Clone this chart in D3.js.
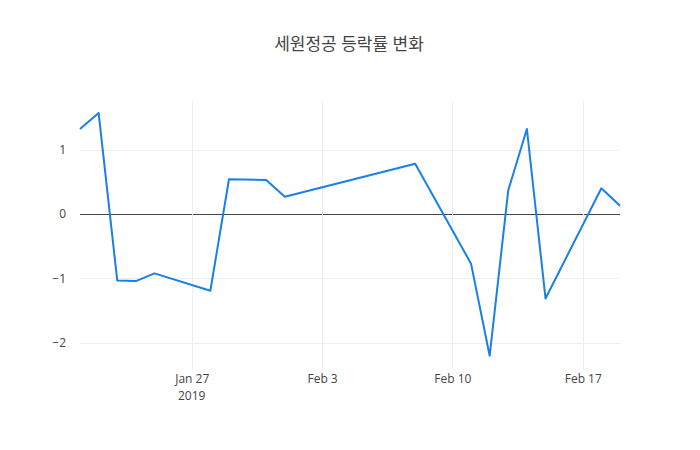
<!DOCTYPE html>
<html><head><meta charset="utf-8">
<script src="https://cdn.jsdelivr.net/npm/d3@7"></script>
<style>body{margin:0;background:#fff}text{font-family:"Open Sans","Noto Sans CJK KR",sans-serif}</style>
</head><body><svg id="chart" width="700" height="450"></svg>
<script>
const dates = ["2019-01-21","2019-01-22","2019-01-23","2019-01-24","2019-01-25","2019-01-28","2019-01-29","2019-01-31","2019-02-01","2019-02-08","2019-02-11","2019-02-12","2019-02-13","2019-02-14","2019-02-15","2019-02-18","2019-02-19"];
const rates = [1.32,1.57,-1.03,-1.04,-0.92,-1.19,0.54,0.53,0.27,0.78,-0.77,-2.2,0.37,1.32,-1.31,0.40,0.13];
const yTicks = [-2,-1,0,1];
const xTicks = ["2019-01-27","2019-02-03","2019-02-10","2019-02-17"];

const svg = d3.select("#chart");
const m = {l: 80, r: 80, t: 100, b: 80};
const w = 700 - m.l - m.r, h = 450 - m.t - m.b;
const parse = d3.timeParse("%Y-%m-%d");
const data = dates.map((d, i) => ({date: parse(d), v: rates[i]}));

const x = d3.scaleTime().domain(d3.extent(data, d => d.date)).range([m.l, m.l + w]);
const y = d3.scaleLinear().domain([-2.42, 1.77]).range([m.t + h, m.t]);

// grid
svg.append("g").selectAll("line").data(yTicks).join("line")
    .attr("x1", m.l).attr("x2", m.l + w)
    .attr("y1", d => Math.round(y(d)) + 0.5).attr("y2", d => Math.round(y(d)) + 0.5)
    .attr("stroke", d => d === 0 ? "#444" : "#eee").attr("stroke-width", 1);
svg.append("g").selectAll("line").data(xTicks.map(parse)).join("line")
    .attr("x1", d => Math.round(x(d)) + 0.5).attr("x2", d => Math.round(x(d)) + 0.5)
    .attr("y1", m.t).attr("y2", m.t + h)
    .attr("stroke", "#eee");

// axes
const yAxis = svg.append("g").attr("transform", `translate(${m.l},0)`)
    .call(d3.axisLeft(y).tickValues(yTicks).tickSize(0).tickPadding(14).tickFormat(d => d < 0 ? "\u2212" + Math.abs(d) : d));
const xAxis = svg.append("g").attr("transform", `translate(0,${m.t + h})`)
    .call(d3.axisBottom(x).tickValues(xTicks.map(parse)).tickSize(0).tickPadding(4).tickFormat(d3.timeFormat("%b %-d")));
[yAxis, xAxis].forEach(a => {
    a.select(".domain").remove();
    a.selectAll("text").attr("fill", "#444").style("font-size", "12px");
});
xAxis.append("text").attr("x", x(parse("2019-01-27"))).attr("y", 30)
    .attr("text-anchor", "middle").attr("fill", "#444").style("font-size", "12px").text("2019");

// line
svg.append("path").datum(data)
    .attr("fill", "none").attr("stroke", "#1a7fe6").attr("stroke-width", 2)
    .attr("stroke-linejoin", "round")
    .attr("d", d3.line().x(d => x(d.date)).y(d => y(d.v)));

svg.append("text").attr("x", 349).attr("y", 50).attr("text-anchor", "middle")
    .attr("fill", "#444").style("font-size", "17px").text("세원정공 등락률 변화");
</script></body></html>
